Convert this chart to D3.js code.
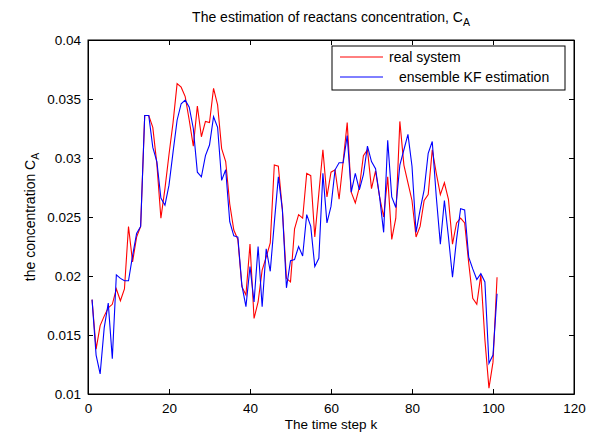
<!DOCTYPE html>
<html><head><meta charset="utf-8">
<script src="https://cdn.jsdelivr.net/npm/d3@7/dist/d3.min.js"></script>
<style>
html,body{margin:0;padding:0;background:#fff;}
text{font-family:"Liberation Sans",Arial,Helvetica,sans-serif;fill:#000;}
</style></head>
<body>
<svg id="chart" width="590" height="432"></svg>
<script>
const steps = d3.range(1, 102);
const realSystem = [
0.0180,0.0138,0.0158,0.0166,0.0173,0.0176,0.0189,0.0179,0.0189,0.0242,
0.0212,0.0233,0.0242,0.0336,0.0336,0.0326,0.0295,0.0249,0.0274,0.0303,
0.0330,0.0363,0.0360,0.0352,0.0332,0.0310,0.0344,0.0318,0.0331,0.0330,
0.0359,0.0345,0.0308,0.0297,0.0261,0.0239,0.0231,0.0191,0.0184,0.0227,
0.0164,0.0178,0.0205,0.0216,0.0228,0.0294,0.0293,0.0256,0.0198,0.0195,
0.0240,0.0252,0.0249,0.0287,0.0285,0.0233,0.0270,0.0307,0.0267,0.0288,
0.0290,0.0265,0.0297,0.0330,0.0271,0.0262,0.0275,0.0302,0.0307,0.0274,
0.0289,0.0267,0.0250,0.0284,0.0231,0.0249,0.0331,0.0294,0.0279,0.0264,
0.0233,0.0242,0.0264,0.0269,0.0307,0.0287,0.0269,0.0279,0.0265,0.0227,
0.0245,0.0249,0.0245,0.0211,0.0181,0.0176,0.0201,0.0146,0.0105,0.0127,
0.0199];
const enkfEstimate = [
0.0180,0.0133,0.0117,0.0156,0.0177,0.0130,0.0201,0.0198,0.0196,0.0196,
0.0217,0.0236,0.0242,0.0336,0.0336,0.0309,0.0297,0.0266,0.0260,0.0277,
0.0305,0.0332,0.0346,0.0349,0.0343,0.0325,0.0288,0.0284,0.0302,0.0311,
0.0335,0.0326,0.0281,0.0290,0.0246,0.0234,0.0233,0.0192,0.0174,0.0208,
0.0178,0.0225,0.0174,0.0223,0.0204,0.0245,0.0284,0.0256,0.0190,0.0213,
0.0214,0.0225,0.0217,0.0252,0.0242,0.0208,0.0215,0.0287,0.0245,0.0259,
0.0290,0.0296,0.0296,0.0319,0.0271,0.0287,0.0273,0.0286,0.0310,0.0297,
0.0291,0.0267,0.0237,0.0315,0.0267,0.0258,0.0294,0.0307,0.0320,0.0293,
0.0237,0.0256,0.0273,0.0304,0.0314,0.0267,0.0227,0.0264,0.0233,0.0199,
0.0231,0.0257,0.0256,0.0216,0.0206,0.0197,0.0202,0.0195,0.0126,0.0133,
0.0185];
const xTicks = [0,20,40,60,80,100,120];
const yTicks = [0.01,0.015,0.02,0.025,0.03,0.035,0.04];
const yTickLabels = ["0.01","0.015","0.02","0.025","0.03","0.035","0.04"];
const seriesNames = ["real system","ensemble KF estimation"];
const seriesColors = ["#ff0000","#0000ff"];

const L = 88, R = 574, T = 40, B = 394;
const svg = d3.select("#chart");
const x = d3.scaleLinear().domain([0,120]).range([L,R]);
const y = d3.scaleLinear().domain([0.01,0.04]).range([B,T]);
const fs = 13.5;

// box
svg.append("rect").attr("x",L).attr("y",T).attr("width",R-L).attr("height",B-T)
  .attr("fill","#fff").attr("stroke","#000").attr("stroke-width",1);

// axes with inward ticks
const xb = svg.append("g").attr("transform",`translate(0,${B})`)
  .call(d3.axisBottom(x).tickValues(xTicks).tickSizeInner(-5).tickSizeOuter(0).tickPadding(9));
const xt = svg.append("g").attr("transform",`translate(0,${T})`)
  .call(d3.axisTop(x).tickValues(xTicks).tickSizeInner(-5).tickSizeOuter(0).tickFormat(""));
const yl = svg.append("g").attr("transform",`translate(${L},0)`)
  .call(d3.axisLeft(y).tickValues(yTicks).tickSizeInner(-5).tickSizeOuter(0).tickPadding(7)
    .tickFormat((d,i)=>yTickLabels[i]));
const yr = svg.append("g").attr("transform",`translate(${R},0)`)
  .call(d3.axisRight(y).tickValues(yTicks).tickSizeInner(-5).tickSizeOuter(0).tickFormat(""));
[xb,xt,yl,yr].forEach(g=>{
  g.select(".domain").attr("stroke","#000");
  g.selectAll(".tick line").attr("stroke","#000");
  g.selectAll("text").attr("font-size",fs).attr("font-family","Liberation Sans, Arial, sans-serif");
});

// lines
const line = d3.line().x((d,i)=>x(steps[i])).y(d=>y(d));
[realSystem, enkfEstimate].forEach((s,i)=>{
  svg.append("path").datum(s).attr("d",line).attr("fill","none")
    .attr("stroke",seriesColors[i]).attr("stroke-width",1.1);
});

// title
const title = svg.append("text").attr("x",331).attr("y",22).attr("text-anchor","middle").attr("font-size",14);
title.append("tspan").text("The estimation of reactans concentration, C");
title.append("tspan").attr("dy",4).attr("font-size",10.5).text("A");

// x label
svg.append("text").attr("x",331).attr("y",429).attr("text-anchor","middle").attr("font-size",fs)
  .text("The time step k");

// y label
const ylab = svg.append("text").attr("transform","translate(35,217) rotate(-90)")
  .attr("text-anchor","middle").attr("font-size",14);
ylab.append("tspan").text("the concentration C");
ylab.append("tspan").attr("dy",4).attr("font-size",10.5).text("A");

// legend
const lg = svg.append("g");
lg.append("rect").attr("x",332).attr("y",46).attr("width",233).attr("height",44)
  .attr("fill","#fff").attr("stroke","#000").attr("stroke-width",1);
const legY = [57, 77];
seriesNames.forEach((n,i)=>{
  lg.append("line").attr("x1",340).attr("x2",383).attr("y1",legY[i]).attr("y2",legY[i])
    .attr("stroke",seriesColors[i]).attr("stroke-width",1);
  lg.append("text").attr("x", i===0?389:399).attr("y",legY[i]+5).attr("font-size",14)
    .text(n);
});
</script>
</body></html>
